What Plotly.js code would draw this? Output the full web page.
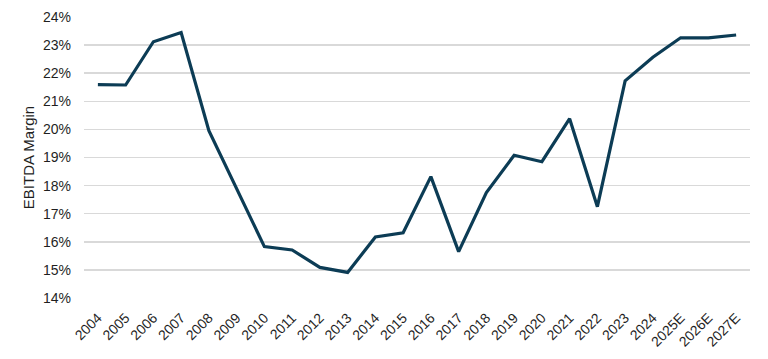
<!DOCTYPE html>
<html>
<head>
<meta charset="utf-8">
<script src="https://cdn.plot.ly/plotly-3.0.1.min.js"></script>
<style>html,body{margin:0;padding:0;background:#fff;}#chart{width:768px;height:359px;}</style>
</head>
<body>
<div id="chart"></div>
<script>
const years = ["2004","2005","2006","2007","2008","2009","2010","2011","2012","2013","2014","2015","2016","2017","2018","2019","2020","2021","2022","2023","2024","2025E","2026E","2027E"];
const ebitdaMargin = [0.2159,0.2158,0.2312,0.2345,0.1995,0.1790,0.1583,0.1571,0.1509,0.1491,0.1617,0.1632,0.1832,0.1565,0.1775,0.1908,0.1885,0.2038,0.1725,0.2173,0.2257,0.2326,0.2326,0.2336];
const yTickVals = [0.14,0.15,0.16,0.17,0.18,0.19,0.20,0.21,0.22,0.23,0.24];

Plotly.newPlot('chart', [{
  x: years,
  y: ebitdaMargin,
  type: 'scatter',
  mode: 'lines',
  line: {color: '#0c3c55', width: 3.2},
  hoverinfo: 'none'
}], {
  width: 768, height: 359,
  margin: {l: 84, r: 18, t: 17, b: 61},
  paper_bgcolor: '#fff', plot_bgcolor: '#fff',
  font: {family: 'Liberation Sans, Arial, sans-serif', size: 14, color: '#1f1f1f'},
  showlegend: false,
  xaxis: {
    type: 'category',
    range: [-0.5, years.length - 0.5],
    tickangle: -45,
    showgrid: false, zeroline: false, showline: false,
    ticks: '', ticklabelstandoff: 8,
    tickfont: {size: 14, color: '#1f1f1f'},
    automargin: false
  },
  yaxis: {
    range: [0.14, 0.24],
    tickvals: yTickVals,
    tickformat: '.0%',
    showgrid: true, gridcolor: '#d9d9d9', gridwidth: 1.5,
    zeroline: false, showline: false, ticks: '',
    ticklabelstandoff: 12,
    tickfont: {size: 14, color: '#1f1f1f'},
    title: {text: 'EBITDA Margin', font: {size: 15, color: '#1f1f1f'}, standoff: 4},
    automargin: false
  }
}, {staticPlot: true});
</script>
</body>
</html>
